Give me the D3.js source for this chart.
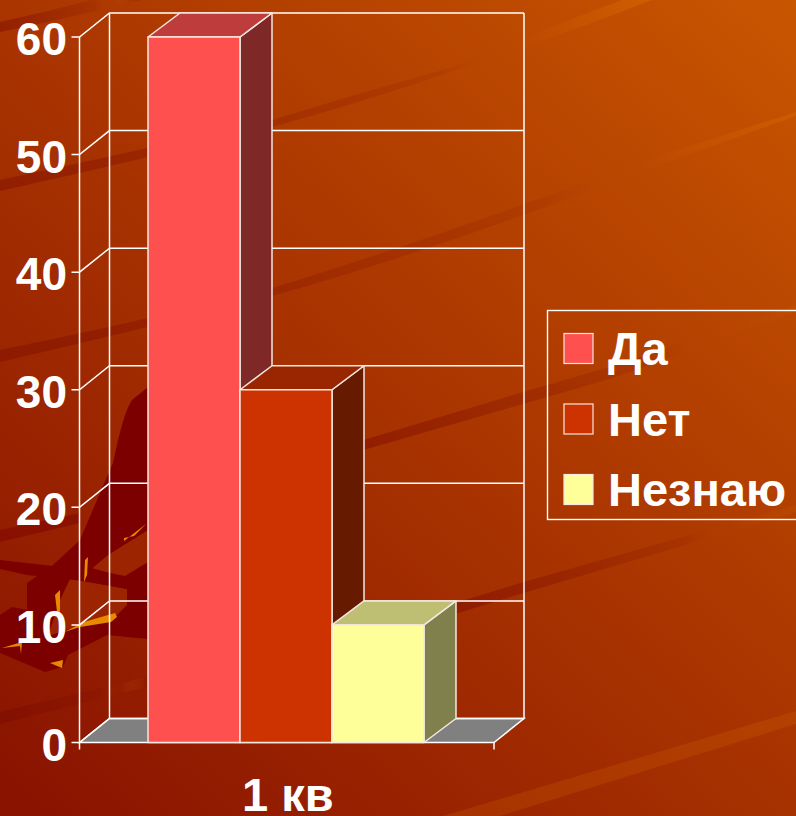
<!DOCTYPE html>
<html>
<head>
<meta charset="utf-8">
<script src="https://d3js.org/d3.v7.min.js"></script>
<style>
html,body{margin:0;padding:0;overflow:hidden}
svg{display:block}
text{font-family:"Liberation Sans",Arial,sans-serif;font-weight:bold;fill:#fff}
</style>
</head>
<body>
<svg id="chart" width="796" height="816"></svg>
<script>
var categories = ["1 кв"];
var seriesNames = ["Да","Нет","Незнаю"];
var seriesValues = [60,30,10];
var tickValues = [0,10,20,30,40,50,60];
var seriesColors = ["#ff5050","#cc3300","#ffff99"];
var sideColors = ["#7f2828","#661a00","#80804d"];
var topColors = ["#bf3c3c","#992600","#bfbf73"];

var svg = d3.select("#chart");
var W = 796, H = 816;

// фон
var defs = svg.append("defs");
var bg = defs.append("linearGradient").attr("id","bg")
  .attr("gradientUnits","userSpaceOnUse")
  .attr("x1",40).attr("y1",816).attr("x2",796).attr("y2",0);
bg.append("stop").attr("offset",0).attr("stop-color","#8a1300");
bg.append("stop").attr("offset",0.5).attr("stop-color","#a93400");
bg.append("stop").attr("offset",1).attr("stop-color","#c85600");
svg.append("rect").attr("width",W).attr("height",H).attr("fill","url(#bg)");

// полосы на фоне: тёмная часть слева, дальше сходит на нет и светлеет
var dark = "#7d0c00", light = "#d86a00";
var streaks = [
  {id:"s0",x1:0,x2:140,a:.5,b:.35,d:"M0,32 Q70,18 140,0 L92,0 Q45,12 0,22 Z"},
  {id:"s1",x1:0,x2:650,a:.45,b:.5,d:"M0,191 Q140,160 272,127 Q370,100 450,72 Q560,36 652,0 L622,0 Q530,34 450,68 Q370,90 272,120 Q140,150 0,180 Z"},
  {id:"s2",x1:0,x2:796,a:.45,b:.4,d:"M0,362 Q140,330 272,296 Q430,252 640,172 L796,116 L796,112 L640,162 Q430,240 272,288 Q140,322 0,350 Z"},
  {id:"s3",x1:360,x2:796,a:.5,b:.1,d:"M360,451 L530,402 L613,378 L796,312 L796,305 L613,366 L530,390 L360,441 Z"},
  {id:"s4",x1:455,x2:796,a:.5,b:.15,d:"M455,614 L527,592 L796,512 L796,505 L527,581 L455,603 Z"},
  {id:"s5",x1:0,x2:150,a:.6,b:.5,d:"M0,724 L150,686 L150,676 L0,712 Z"}
];
streaks.forEach(function(s){
  var gr = defs.append("linearGradient").attr("id",s.id).attr("gradientUnits","userSpaceOnUse")
    .attr("x1",s.x1).attr("y1",0).attr("x2",s.x2).attr("y2",0);
  gr.append("stop").attr("offset",0).attr("stop-color",dark).attr("stop-opacity",s.a);
  gr.append("stop").attr("offset",0.68).attr("stop-color",dark).attr("stop-opacity",s.a*0.25);
  gr.append("stop").attr("offset",0.8).attr("stop-color",light).attr("stop-opacity",0);
  gr.append("stop").attr("offset",1).attr("stop-color",s.id=="s0"||s.id=="s5"?dark:light).attr("stop-opacity",s.b);
});
svg.append("g").selectAll("path").data(streaks).join("path")
  .attr("d",function(d){return d.d})
  .attr("fill",function(d){return "url(#"+d.id+")"});
svg.append("path").attr("d","M443,816 L796,711 L796,724 L500,816 Z").attr("fill",light).attr("opacity",.22);

// силуэт слева
var shape = "M148,387 L132,400 C124,412 118,440 113,463 L97,500 L80,540 L53,565 L27,583 L27,610 L12,607 L0,615 L0,653 L45,672 L63,667 L68,655 L107,635 L148,639 L148,387 Z";
svg.append("path").attr("d",shape).attr("fill","#7d0000");
// просветы в силуэте
var holes = [
  "M70,579 L105,585 L127,589 L127,605 L115,617 L80,625 L48,636 L60,600 Z",
  "M88,572 L108,555 L148,530 L148,562 L125,576 L105,572 Z"
];
svg.append("g").selectAll("path").data(holes).join("path")
  .attr("d",function(d){return d}).attr("fill","#9c2400");
svg.append("path").attr("d","M0,560 L53,566 L85,566 L127,578 L127,589 L85,581 L27,575 L0,569 Z").attr("fill","#7d0000");
svg.append("path").attr("d","M0,530 L80,513 L80,523 L0,542 Z").attr("fill","#7d0000").attr("opacity",.45);
var sparks = [
  "M64,632 L84,622 L115,613 L117,617 L111,622 L80,627 Z",
  "M2,648 L22,642 L21,654 L20,646 Z",
  "M50,663 L63,660 L62,668 Z",
  "M85,560 L88,557 L87,575 L84,582 Z",
  "M124,541 L146,524 L134,536 L124,538 Z",
  "M55,595 L60,590 L60,610 L58,620 Z"
];
svg.append("g").selectAll("path").data(sparks).join("path")
  .attr("d",function(d){return d}).attr("fill","#e88a00");

// шкалы
var y = d3.scaleLinear().domain([0,60]).range([742.5,37]);
var x0 = d3.scaleBand().domain(categories).range([79.5,494]);
var x1 = d3.scaleBand().domain(seriesNames).range([148,424]);
var dx = 30, dy = -24;
var line = "#ffffff";

// стенки и пол
var g = svg.append("g").attr("fill","none").attr("stroke",line).attr("stroke-width",1.5);
var xL = x0.range()[0], xR = x0.range()[1];
g.append("path").attr("d",d3.line()([[xL,y(0)],[xL+dx,y(0)+dy],[xR+dx,y(0)+dy],[xR,y(0)]])+"Z")
  .attr("fill","#808080");
tickValues.forEach(function(t){
  g.append("path").attr("d",d3.line()([[xL-8,y(t)],[xL,y(t)],[xL+dx,y(t)+dy],[xR+dx,y(t)+dy]]));
});
g.append("path").attr("d",d3.line()([[xL,y(0)],[xL,y(60)]]));
g.append("path").attr("d",d3.line()([[xL+dx,y(0)+dy],[xL+dx,y(60)+dy]]));
g.append("path").attr("d",d3.line()([[xR+dx,y(0)+dy],[xR+dx,y(60)+dy]]));
g.append("path").attr("d",d3.line()([[xL,y(0)+7],[xL,y(0)]]));
g.append("path").attr("d",d3.line()([[xR,y(0)+7],[xR,y(0)]]));

// столбики
var bars = svg.append("g").selectAll("g").data(seriesNames).join("g")
  .attr("stroke","#f4e8e0").attr("stroke-width",1.5).attr("stroke-linejoin","round");
bars.each(function(name,i){
  var b = d3.select(this);
  var l = x1(name), r = l + x1.bandwidth(), t = y(seriesValues[i]), bot = y(0), ox = dx+2;
  b.append("path").attr("fill",sideColors[i])
    .attr("d",d3.line()([[r,t],[r+ox,t+dy],[r+ox,bot+dy],[r,bot]])+"Z");
  b.append("path").attr("fill",topColors[i])
    .attr("d",d3.line()([[l,t],[l+ox,t+dy],[r+ox,t+dy],[r,t]])+"Z");
  b.append("rect").attr("x",l).attr("y",t).attr("width",r-l).attr("height",bot-t).attr("fill",seriesColors[i]);
});

// подписи оси
svg.append("g").selectAll("text").data(tickValues).join("text")
  .attr("x",67).attr("y",function(d){return y(d)+18})
  .attr("text-anchor","end").attr("font-size",46)
  .text(function(d){return d});
svg.append("g").selectAll("text").data(categories).join("text")
  .attr("x",x0(categories[0])+x0.bandwidth()/2+1).attr("y",811)
  .attr("text-anchor","middle").attr("font-size",47)
  .text(function(d){return d});

// легенда
var legendY = d3.scalePoint().domain(seriesNames).range([349,490]);
svg.append("rect").attr("x",547.5).attr("y",310.5).attr("width",260).attr("height",209)
  .attr("fill","none").attr("stroke","#fff").attr("stroke-width",1.4);
var lg = svg.append("g").selectAll("g").data(seriesNames).join("g")
  .attr("transform",function(d){return "translate(0,"+legendY(d)+")"});
lg.append("rect").attr("x",564).attr("y",-15.5).attr("width",29).attr("height",30)
  .attr("fill",function(d,i){return seriesColors[i]}).attr("stroke","#f4e8e0").attr("stroke-width",1.2);
lg.append("text").attr("x",608).attr("y",16).attr("font-size",47)
  .text(function(d){return d});
</script>
</body>
</html>
